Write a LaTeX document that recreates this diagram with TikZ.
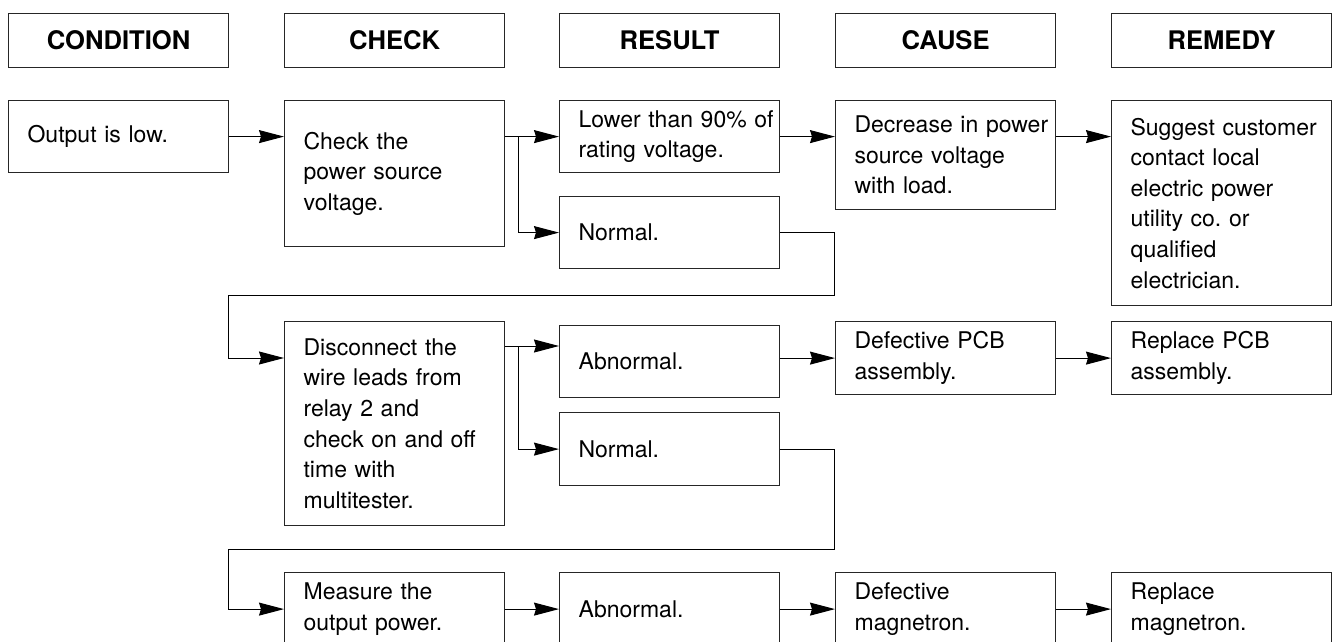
\documentclass[tikz,border=0pt]{standalone}
\usepackage{fontspec}
\setmainfont{TeX Gyre Heros}
\usetikzlibrary{arrows.meta,calc}
\frenchspacing

\tikzset{
  head/.style={draw=black!85, line width=0.6pt, anchor=north west, inner sep=0pt,
    minimum width=110pt, minimum height=27pt, font=\fontsize{12.8}{15}\selectfont\bfseries},
  box/.style={draw=black!85, line width=0.6pt, anchor=north west, inner xsep=9.5pt, inner ysep=0pt,
    text width=91pt, align=left, font=\fontsize{11.5}{15.3}\selectfont},
  flow/.style={-{Stealth[length=12.5pt,width=6.5pt,inset=1pt]}, line width=0.5pt},
}

\begin{document}
\begin{tikzpicture}[x=0.5pt,y=-0.5pt]
            \useasboundingbox (0,0) rectangle (1335,642);
            \clip (0,0) rectangle (1335,642);

            % column heads
            \node[head] (hcond) at (8,13) {CONDITION};
            \node[head] (hcheck) at (284,13) {CHECK};
            \node[head] (hres) at (559,13) {RESULT};
            \node[head] (hcause) at (835,13) {CAUSE};
            \node[head] (hrem) at (1111,13) {REMEDY};

            % first row
            \node[box, minimum height=36pt] (cond1) at (8,100) {Output is low.};
            \node[box, minimum height=73pt] (check1) at (284,100) {Check the\\power source\\voltage.};
            \node[box, minimum height=36pt] (res1a) at (559,100) {\mbox{Lower than 90\% of}\\rating voltage.};
            \node[box, minimum height=36pt] (res1b) at (559,196) {Normal.};
            \node[box, minimum height=54.5pt] (cause1) at (835,100) {\mbox{Decrease in power}\\source voltage\\with load.};
            \node[box, minimum height=102.5pt] (rem1) at (1111,100) {\mbox{Suggest customer}\\contact local\\electric power\\utility co. or\\qualified\\electrician.};

            % second row
            \node[box, minimum height=102pt] (check2) at (284,321) {Disconnect the\\wire leads from\\relay 2 and\\check on and off\\time with\\multitester.};
            \node[box, minimum height=36pt] (res2a) at (559,325) {Abnormal.};
            \node[box, minimum height=36.5pt] (res2b) at (559,412) {Normal.};
            \node[box, minimum height=36.5pt] (cause2) at (835,321) {Defective PCB\\assembly.};
            \node[box, minimum height=36.5pt] (rem2) at (1111,321) {Replace PCB\\assembly.};

            % third row
            \node[box, minimum height=36.5pt] (check3) at (284,572) {Measure the\\output power.};
            \node[box, minimum height=36.5pt] (res3) at (559,572) {Abnormal.};
            \node[box, minimum height=36.5pt] (cause3) at (835,572) {Defective\\magnetron.};
            \node[box, minimum height=36.5pt] (rem3) at (1111,572) {Replace\\magnetron.};

            \coordinate (fork1) at ($(check1.east |- res1a.west)+(13,0)$);
            \coordinate (loop1r) at (834,295);
            \coordinate (loop1l) at (228,295);
            \coordinate (in2) at ($(check2.north west)+(0,37)$);
            \coordinate (fork2) at ($(check2.north east)+(13,25)$);
            \coordinate (loop2r) at (834,549);
            \coordinate (loop2l) at (228,549);

            \draw[flow] (cond1.east) -- (check1.west |- cond1.east);
            \draw[flow] (check1.east |- res1a.west) -- (res1a.west);
            \draw[flow] (fork1) |- (res1b.west);
            \draw[flow] (res1a.east) -- (cause1.west |- res1a.east);
            \draw[flow] (cause1.east |- res1a.east) -- (rem1.west |- res1a.east);
            \draw[flow] (res1b.east) -| (loop1r) -- (loop1l) |- (in2);

            \draw[flow] (check2.east |- fork2) -- (res2a.west |- fork2);
            \draw[flow] (fork2) |- (res2b.west);
            \draw[flow] (res2a.east |- cause2.west) -- (cause2.west);
            \draw[flow] (cause2.east) -- (rem2.west);
            \draw[flow] (res2b.east) -| (loop2r) -- (loop2l) |- (check3.west);

            \draw[flow] (check3.east) -- (res3.west);
            \draw[flow] (res3.east) -- (cause3.west);
            \draw[flow] (cause3.east) -- (rem3.west);
\end{tikzpicture}
\end{document}
